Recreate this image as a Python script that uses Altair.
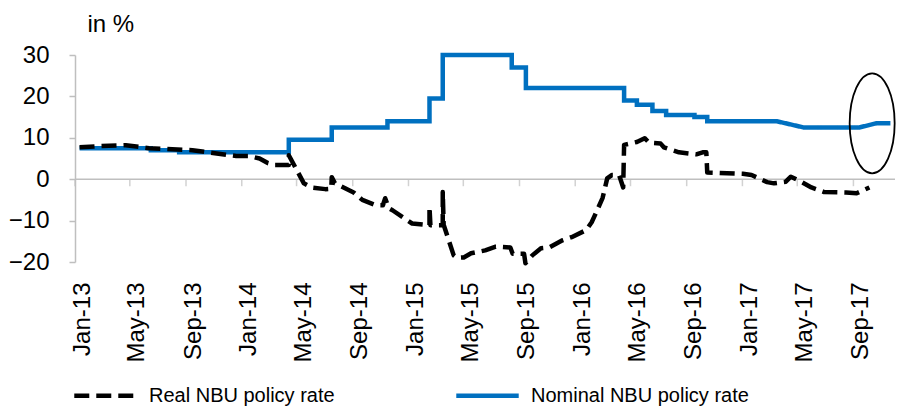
import altair as alt
import pandas as pd

FONT = "Liberation Sans"
AXIS_GRAY = "#BFBFBF"

series_names = ["Real NBU policy rate", "Nominal NBU policy rate"]
series_colors = ["#000000", "#0070C0"]

nominal_dates = [
    "2013-01-11", "2013-06-16", "2013-06-16", "2013-08-17", "2013-08-17",
    "2014-04-14", "2014-04-14", "2014-07-17", "2014-07-17", "2014-11-16",
    "2014-11-16", "2015-02-16", "2015-02-16", "2015-03-17", "2015-03-17",
    "2015-08-15", "2015-08-15", "2015-09-15", "2015-09-15", "2016-04-17",
    "2016-04-17", "2016-05-15", "2016-05-15", "2016-06-18", "2016-06-18",
    "2016-07-18", "2016-07-18", "2016-09-18", "2016-09-18", "2016-10-16",
    "2016-10-16", "2017-03-17", "2017-05-15", "2017-09-14", "2017-10-21",
    "2017-11-21",
]
nominal_values = [
    7.5, 7.5, 7.0, 7.0, 6.5,
    6.5, 9.5, 9.5, 12.5, 12.5,
    14, 14, 19.5, 19.5, 30,
    30, 27, 27, 22, 22,
    19, 19, 18, 18, 16.5,
    16.5, 15.5, 15.5, 15, 15,
    14, 14, 12.5, 12.5, 13.5,
    13.5,
]

real_dates = [
    "2013-01-11", "2013-02-24", "2013-04-22", "2013-06-12", "2013-09-15",
    "2013-12-20", "2014-01-18", "2014-02-09", "2014-02-27", "2014-03-15",
    "2014-04-14", "2014-04-14", "2014-05-17", "2014-06-03", "2014-07-03",
    "2014-07-16", "2014-07-17", "2014-07-24", "2014-09-03", "2014-09-22",
    "2014-10-22", "2014-11-06", "2014-11-11", "2014-11-19", "2014-11-27",
    "2014-12-22", "2015-01-09", "2015-02-16", "2015-02-16", "2015-02-18",
    "2015-03-17", "2015-03-17", "2015-03-19", "2015-04-10", "2015-04-17",
    "2015-05-02", "2015-05-18", "2015-06-18", "2015-07-11", "2015-08-12",
    "2015-08-17", "2015-09-11", "2015-09-14", "2015-09-29", "2015-10-18",
    "2015-11-05", "2015-12-03", "2015-12-24", "2016-01-25", "2016-02-06",
    "2016-02-16", "2016-03-01", "2016-03-11", "2016-03-21", "2016-04-06",
    "2016-04-15", "2016-04-17", "2016-05-15", "2016-06-01", "2016-06-11",
    "2016-07-06", "2016-07-13", "2016-08-15", "2016-09-22", "2016-10-06",
    "2016-10-14", "2016-10-16", "2016-11-12", "2017-01-02", "2017-01-21",
    "2017-02-24", "2017-03-11", "2017-04-06", "2017-04-17", "2017-05-11",
    "2017-06-01", "2017-06-29", "2017-08-16", "2017-09-08", "2017-10-06",
]
real_values = [
    7.7, 8.0, 8.2, 7.5, 7.0,
    5.6, 5.6, 5.0, 3.9, 3.4,
    3.4, 5.8, -1.0, -2.0, -2.4,
    -2.3, 0.5, -1.0, -3.2, -5.0,
    -6.3, -6.3, -4.6, -7.0, -7.5,
    -9.4, -10.7, -11.1, -6.8, -11.1,
    -11.1, -3.1, -11.0, -18.4, -19.0,
    -18.9, -17.9, -17.2, -16.3, -16.5,
    -18.0, -18.0, -20.3, -18.4, -16.7,
    -16.5, -14.8, -14.0, -12.3, -10.4,
    -8.0, -4.5, 0.2, 1.0, 1.0,
    -2.0, 8.3, 9.0, 9.9, 8.8,
    8.6, 7.7, 6.5, 6.0, 6.5,
    6.5, 1.6, 1.5, 1.3, 1.0,
    -0.7, -1.0, -0.6, 0.6, -0.7,
    -2.0, -3.1, -3.2, -3.4, -2.0,
]

tick_months = [(2013, 1), (2013, 5), (2013, 9), (2014, 1), (2014, 5), (2014, 9),
               (2015, 1), (2015, 5), (2015, 9), (2016, 1), (2016, 5), (2016, 9),
               (2017, 1), (2017, 5), (2017, 9)]
y_ticks = [-20, -10, 0, 10, 20, 30]
highlight_date = ["2017-10-12"]
highlight_value = [13.5]

# ---- tables ----
df_nom = pd.DataFrame({"date": pd.to_datetime(nominal_dates), "value": nominal_values,
                       "series": series_names[1]})
df_nom["idx"] = range(len(df_nom))
df_real = pd.DataFrame({"date": pd.to_datetime(real_dates), "value": real_values,
                        "series": series_names[0]})
df_real["idx"] = range(len(df_real))
df_ticks = pd.DataFrame({"date": pd.to_datetime([f"{y}-{m:02d}-01" for y, m in tick_months]),
                         "value": 0})
df_zero = pd.DataFrame({"value": [0]})
df_hl = pd.DataFrame({"date": pd.to_datetime(highlight_date), "value": highlight_value})

x_enc = alt.X(
    "date:T",
    scale=alt.Scale(domain=[alt.DateTime(year=2013, month=1, date=1),
                            alt.DateTime(year=2017, month=12, date=1)]),
    axis=alt.Axis(
        values=[alt.DateTime(year=y, month=m, date=1) for y, m in tick_months],
        format="%b-%y", labelAngle=270, labelOffset=7, labelPadding=20,
        domain=False, ticks=False, grid=False, title=None,
        labelFont=FONT, labelFontSize=24, labelColor="black",
    ),
)
y_enc = alt.Y(
    "value:Q",
    scale=alt.Scale(domain=[-20, 30], nice=False, zero=False),
    axis=alt.Axis(
        values=y_ticks, grid=False,
        title="in %", titleAngle=0, titleAlign="left", titleBaseline="middle",
        titleX=12, titleY=-31, titleFont=FONT, titleFontSize=24,
        titleFontWeight="normal", titleColor="black",
        labelFont=FONT, labelFontSize=24, labelColor="black", labelPadding=20,
        tickSize=6, tickColor=AXIS_GRAY, tickWidth=1.5,
        domainColor=AXIS_GRAY, domainWidth=1.5,
    ),
)

legend = alt.Legend(
    title=None, orient="none", legendX=-3, legendY=307, direction="horizontal",
    symbolType="stroke", symbolSize=3900, symbolStrokeWidth=4.5,
    labelFont=FONT, labelFontSize=20, labelColor="black", labelOffset=10,
    labelLimit=0, columnPadding=112, padding=0,
)
color_enc = alt.Color("series:N", scale=alt.Scale(domain=series_names, range=series_colors),
                      legend=legend)
dash_enc = alt.StrokeDash("series:N", scale=alt.Scale(domain=series_names,
                                                      range=[[15, 7], [1, 0]]),
                          legend=legend)

zero_line = alt.Chart(df_zero).mark_rule(color=AXIS_GRAY, strokeWidth=1.5).encode(y=y_enc)
zero_ticks = alt.Chart(df_ticks).mark_tick(
    orient="vertical", size=7, thickness=1.5, color=AXIS_GRAY, yOffset=3.5
).encode(x=x_enc, y=y_enc)

nominal = alt.Chart(df_nom).mark_line(strokeWidth=4.5).encode(
    x=x_enc, y=y_enc, color=color_enc, strokeDash=dash_enc, order="idx:Q")
real = alt.Chart(df_real).mark_line(strokeWidth=4.5, strokeJoin="round").encode(
    x=x_enc, y=y_enc, color=color_enc, strokeDash=dash_enc, order="idx:Q")

ellipse_path = ("M0,-1C0.2485,-1,0.45,-0.5523,0.45,0C0.45,0.5523,0.2485,1,0,1"
                "C-0.2485,1,-0.45,0.5523,-0.45,0C-0.45,-0.5523,-0.2485,-1,0,-1Z")
highlight = alt.Chart(df_hl).mark_point(
    shape=ellipse_path, size=10000, filled=False, stroke="black",
    strokeWidth=1.8, opacity=1
).encode(x=x_enc, y=y_enc)

chart = alt.layer(zero_line, zero_ticks, nominal, real, highlight).properties(
    width=820, height=207,
    autosize=alt.AutoSizeParams(type="none"),
    padding={"left": 67, "top": 47, "right": 1, "bottom": 144},
).configure_view(stroke=None)

chart.save("out.html", embed_options={"renderer": "svg", "actions": False})
